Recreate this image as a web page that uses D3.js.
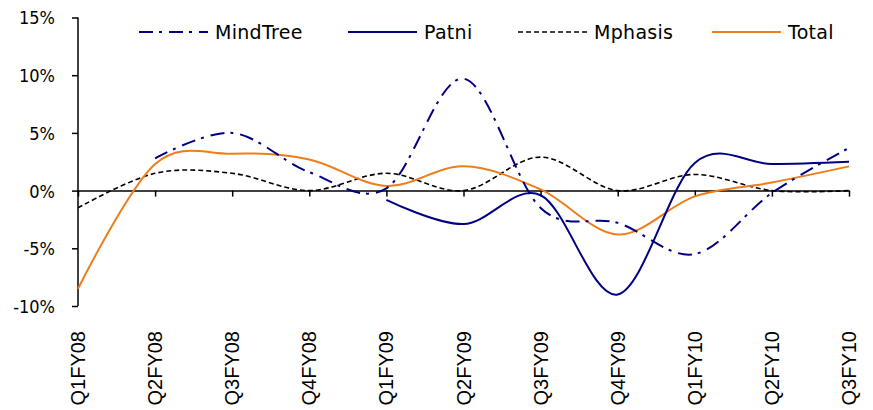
<!DOCTYPE html>
<html>
<head>
<meta charset="utf-8">
<script src="https://cdn.jsdelivr.net/npm/d3@7"></script>
<style>
  body { margin: 0; background: #fff; }
  svg { display: block; }
</style>
</head>
<body>
<div id="chart"></div>
<script>
// quarters on the x axis
const quarters = ["Q1FY08", "Q2FY08", "Q3FY08", "Q4FY08", "Q1FY09", "Q2FY09",
                  "Q3FY09", "Q4FY09", "Q1FY10", "Q2FY10", "Q3FY10"];

// growth in %, null = no value
const mindTree = [null, 2.8, 5.0, 1.6, 0.2, 9.7, -1.5, -2.8, -5.5, -0.2, 3.7];
const patni    = [null, null, null, null, -0.8, -2.9, -0.4, -9.0, 2.4, 2.3, 2.5];
const mphasis  = [-1.5, 1.5, 1.5, 0.0, 1.5, 0.0, 2.9, 0.0, 1.4, 0.0, 0.0];
const total    = [-8.5, 2.3, 3.2, 2.7, 0.4, 2.1, 0.1, -3.8, -0.5, 0.7, 2.1];

const yTicks = [-10, -5, 0, 5, 10, 15];

const seriesNames = ["MindTree", "Patni", "Mphasis", "Total"];
const seriesValues = [mindTree, patni, mphasis, total];

const width = 873, height = 410;

const styles = {
    MindTree: {color: "#000080", dash: "14,6,3,7", w: 2},
    Patni:    {color: "#000080", dash: null, w: 2},
    Mphasis:  {color: "#000000", dash: "5,3", w: 1.6},
    Total:    {color: "#EE7D1C", dash: null, w: 2}
};

const svg = d3.select("#chart").append("svg")
    .attr("width", width)
    .attr("height", height);

const x = d3.scalePoint()
    .domain(quarters)
    .range([78, 849]);

const y = d3.scaleLinear()
    .domain([-10, 15])
    .range([306, 17.5]);

// y axis
const yAxis = svg.append("g")
    .attr("transform", "translate(78,0)")
    .call(d3.axisLeft(y).tickValues(yTicks).tickSize(6).tickPadding(4)
        .tickFormat(d => d + "%"));
yAxis.select(".domain").attr("stroke", "#000").attr("stroke-width", 1.5).attr("d", `M0,${y(15)}V${y(-10)}`);
yAxis.selectAll(".tick line").attr("stroke", "#000").attr("stroke-width", 1.5);
yAxis.selectAll(".tick text")
    .attr("x", -23)
    .attr("dy", "0.36em")
    .attr("fill", "#000")
    .style("font-family", "'DejaVu Sans Condensed', 'DejaVu Sans', sans-serif")
    .style("font-stretch", "condensed")
    .style("font-size", "18px");

// x axis on the zero line, ticks pointing down
const xAxis = svg.append("g")
    .attr("transform", `translate(0,${y(0)})`)
    .call(d3.axisBottom(x).tickSize(6).tickSizeOuter(0));
xAxis.select(".domain").attr("stroke", "#000").attr("stroke-width", 1.5);
xAxis.selectAll(".tick line").attr("stroke", "#000").attr("stroke-width", 1.5);
xAxis.selectAll(".tick text").remove();

// category labels at the bottom, rotated
svg.append("g")
    .selectAll("text")
    .data(quarters)
    .join("text")
    .attr("transform", d => `translate(${x(d) + 7},331) rotate(-90)`)
    .attr("text-anchor", "end")
    .style("font-family", "'Liberation Sans', Arial, sans-serif")
    .style("font-size", "20px")
    .attr("fill", "#000")
    .text(d => d);

// lines
const line = d3.line()
    .defined(d => d.v !== null)
    .x(d => x(d.q))
    .y(d => y(d.v))
    .curve(d3.curveCardinal.tension(0));

const drawOrder = ["Mphasis", "Total", "MindTree", "Patni"];
drawOrder.forEach(name => {
    const vals = seriesValues[seriesNames.indexOf(name)];
    const pts = quarters.map((q, i) => ({q: q, v: vals[i]})).filter(d => d.v !== null);
    const s = styles[name];
    svg.append("path")
        .datum(pts)
        .attr("fill", "none")
        .attr("stroke", s.color)
        .attr("stroke-width", s.w)
        .attr("stroke-dasharray", s.dash)
        .attr("d", line);
});

// legend
const legendX = [139, 348, 518, 712];
const legend = svg.append("g");
seriesNames.forEach((name, i) => {
    const s = styles[name];
    legend.append("line")
        .attr("x1", legendX[i]).attr("x2", legendX[i] + 69)
        .attr("y1", 32).attr("y2", 32)
        .attr("stroke", s.color)
        .attr("stroke-width", s.w)
        .attr("stroke-dasharray", s.dash);
    legend.append("text")
        .attr("x", legendX[i] + 76)
        .attr("y", 38.5)
        .style("font-family", "'DejaVu Sans', sans-serif")
        .style("font-size", "19px")
        .style("letter-spacing", "0.3px")
        .attr("fill", "#000")
        .text(name);
});
</script>
</body>
</html>
